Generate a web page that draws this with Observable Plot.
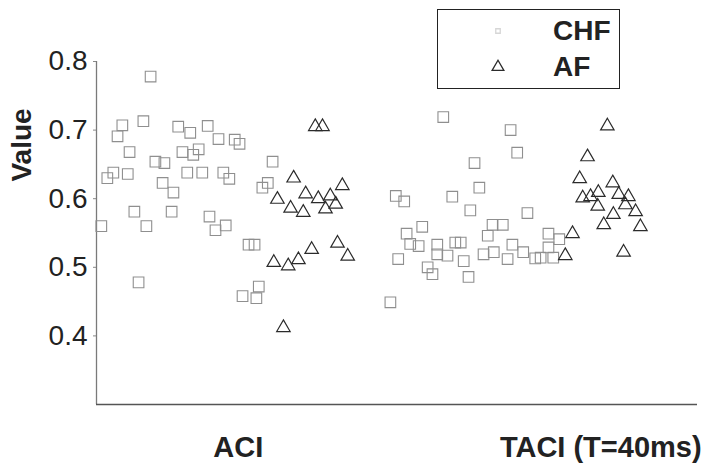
<!DOCTYPE html>
<html>
<head>
<meta charset="utf-8">
<script src="https://cdn.jsdelivr.net/npm/d3@7"></script>
<script src="https://cdn.jsdelivr.net/npm/@observablehq/plot@0.6"></script>
<style>
  html, body { margin: 0; padding: 0; background: #fff; }
  #wrap { position: relative; width: 705px; height: 463px; font-family: "Liberation Sans", Arial, Helvetica, sans-serif; }
  #legend {
    position: absolute; left: 437px; top: 9px; width: 181px; height: 78px;
    border: 1.5px solid #222; background: #fff; box-sizing: content-box;
  }
  #legend .row { position: absolute; left: 0; width: 100%; height: 30px; }
  #legend svg { position: absolute; left: 48px; top: 0; }
  #legend span { position: absolute; left: 115px; top: 0; line-height: 30px; font-size: 28px; font-weight: bold; color: #222; }
</style>
</head>
<body>
<div id="wrap">
  <div id="chart"></div>
  <div id="legend"></div>
</div>
<script>
// Sample position along the horizontal axis (0–100) and measured value.
// CHF group: ACI block then TACI block
const chfPos = [0.8, 1.8, 2.8, 3.5, 4.3, 5.2, 5.5, 6.3, 7.0, 7.8, 8.3, 9.0, 9.8, 11.0, 11.3, 12.5, 12.8,
  13.6, 14.3, 15.1, 15.6, 16.1, 17.0, 17.6, 18.5, 18.8, 19.8, 20.3, 21.1, 21.5, 22.1, 23.0, 23.8,
  24.3, 25.3, 26.3, 26.6, 27.0, 27.6, 28.5, 29.3,
  48.9, 49.8, 50.2, 51.2, 51.6, 52.2, 53.6, 54.2, 55.1, 55.9, 56.7, 56.7, 57.7, 58.4, 59.2, 59.7,
  60.6, 61.1, 61.9, 62.2, 62.9, 63.7, 64.4, 65.1, 65.9, 66.1, 67.6, 68.4, 68.9, 69.2, 70.0, 71.0,
  71.7, 73.0, 73.9, 75.2, 75.2, 76.0, 77.0];
const chfVal = [0.56, 0.63, 0.638, 0.691, 0.707, 0.636, 0.668, 0.581, 0.478, 0.713, 0.56, 0.778, 0.654, 0.623, 0.652, 0.581, 0.609,
  0.705, 0.668, 0.638, 0.696, 0.664, 0.672, 0.638, 0.706, 0.574, 0.554, 0.687, 0.638, 0.561, 0.629, 0.686, 0.68,
  0.458, 0.533, 0.533, 0.455, 0.472, 0.616, 0.623, 0.654,
  0.449, 0.604, 0.512, 0.596, 0.549, 0.534, 0.531, 0.559, 0.50, 0.49, 0.533, 0.519, 0.719, 0.517, 0.603, 0.536,
  0.536, 0.509, 0.486, 0.583, 0.652, 0.616, 0.519, 0.546, 0.562, 0.522, 0.562, 0.512, 0.70, 0.533, 0.667, 0.522,
  0.579, 0.513, 0.514, 0.549, 0.529, 0.514, 0.541];

// AF group: ACI block then TACI block
const afPos = [29.5, 30.1, 31.1, 31.9, 32.3, 32.8, 33.6, 34.4, 34.8, 35.8, 36.4, 36.9, 37.6, 38.1, 38.9, 39.8, 40.1, 40.9, 41.8,
  78.0, 79.2, 80.4, 80.9, 81.7, 82.2, 83.4, 83.5, 84.4, 85.0, 85.9, 86.0, 86.9, 87.7, 88.0, 88.5, 89.7, 90.5];
const afVal = [0.507, 0.599, 0.412, 0.502, 0.586, 0.63, 0.511, 0.58, 0.607, 0.526, 0.705, 0.60, 0.705, 0.585, 0.604, 0.592, 0.535, 0.619, 0.516,
  0.517, 0.549, 0.629, 0.601, 0.661, 0.603, 0.589, 0.609, 0.562, 0.706, 0.623, 0.577, 0.606, 0.522, 0.591, 0.603, 0.581, 0.559];

// Condition labels under the horizontal axis
const groupLabels = ["ACI", "TACI (T=40ms)"];
const groupLabelPos = [23.6, 83.9];
const yTicks = [0.4, 0.5, 0.6, 0.7, 0.8];
const yTitle = "Value";
const seriesNames = ["CHF", "AF"];

const chf = chfPos.map((x, i) => ({x, y: chfVal[i]}));
const af = afPos.map((x, i) => ({x, y: afVal[i]}));
const labelOf = new Map(groupLabelPos.map((p, i) => [p, groupLabels[i]]));

const chfStroke = "#8f8f8f";
const afStroke = "#2b2b2b";

const plot = Plot.plot({
  width: 705,
  height: 463,
  marginLeft: 96,
  marginRight: 8,
  marginTop: 61,
  marginBottom: 59,
  style: {fontFamily: "'Liberation Sans', Arial, Helvetica, sans-serif", background: "#fff", color: "#222"},
  x: {domain: [0, 100], axis: null},
  y: {domain: [0.3, 0.8], axis: null},
  marks: [
    Plot.ruleX([0], {stroke: "#7a7a7a", strokeWidth: 1.3}),
    Plot.ruleY([0.3], {stroke: "#555", strokeWidth: 1.3}),
    Plot.axisY(yTicks, {tickSize: 3, tickPadding: 6, fontSize: 28, tickFormat: d3.format(".1f"), label: null, stroke: "#888"}),
    Plot.axisX(groupLabelPos, {tickSize: 0, tickPadding: 32, fontSize: 29, fontWeight: "bold", tickFormat: d => labelOf.get(d), label: null}),
    Plot.text([yTitle], {frameAnchor: "left", y: () => 0.625, text: d => d, rotate: -90, dx: -74, fontSize: 28, fontWeight: "bold"}),
    Plot.dot(chf, {x: "x", y: "y", symbol: "square", r: 6, stroke: chfStroke, strokeWidth: 1.1, fill: "none"}),
    Plot.dot(af, {x: "x", y: "y", symbol: "triangle", r: 5, stroke: afStroke, strokeWidth: 1.2, fill: "none"})
  ]
});
document.getElementById("chart").appendChild(plot);

// Legend box
const legend = document.getElementById("legend");
const legendSymbols = [
  {shape: d3.symbolSquare, size: 20, stroke: "#d6d6d6", top: 6},
  {shape: d3.symbolTriangle, size: 60, stroke: afStroke, top: 42}
];
seriesNames.forEach((name, i) => {
  const s = legendSymbols[i];
  const row = document.createElement("div");
  row.className = "row";
  row.style.top = s.top + "px";
  const svg = d3.create("svg").attr("width", 24).attr("height", 30);
  svg.append("path")
    .attr("d", d3.symbol(s.shape, s.size)())
    .attr("transform", "translate(12,15)")
    .attr("fill", "none")
    .attr("stroke", s.stroke)
    .attr("stroke-width", 1.3);
  row.appendChild(svg.node());
  const label = document.createElement("span");
  label.textContent = name;
  row.appendChild(label);
  legend.appendChild(row);
});
</script>
</body>
</html>
